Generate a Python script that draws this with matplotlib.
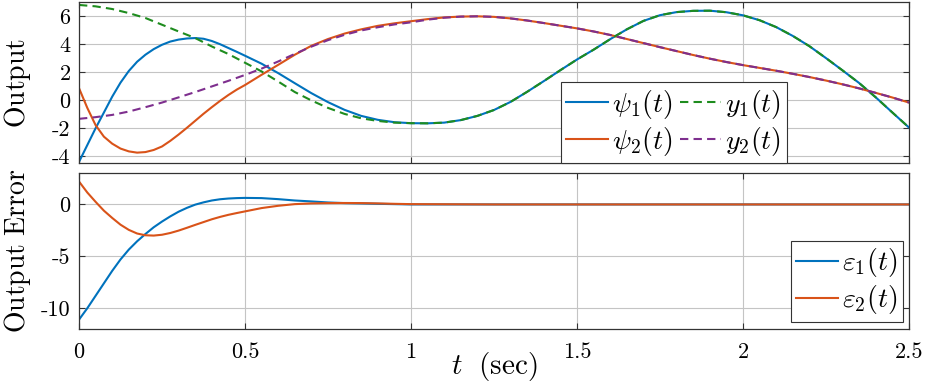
import numpy as np
import matplotlib
matplotlib.use("Agg")
import matplotlib.pyplot as plt

plt.rcParams['mathtext.fontset'] = 'cm'
plt.rcParams['axes.unicode_minus'] = False

# ---------------- data ----------------
# reference outputs (sampled every 0.05 s)
t_ref = [0.00, 0.05, 0.10, 0.15, 0.20, 0.25, 0.30, 0.35, 0.40, 0.45,
         0.50, 0.55, 0.60, 0.65, 0.70, 0.75, 0.80, 0.85, 0.90, 0.95,
         1.00, 1.05, 1.10, 1.15, 1.20, 1.25, 1.30, 1.35, 1.40, 1.45,
         1.50, 1.55, 1.60, 1.65, 1.70, 1.75, 1.80, 1.85, 1.90, 1.95,
         2.00, 2.05, 2.10, 2.15, 2.20, 2.25, 2.30, 2.35, 2.40, 2.45, 2.50]

y1 = [6.79, 6.69, 6.50, 6.21, 5.86, 5.38, 4.90, 4.43, 3.83, 3.29,
      2.67, 2.05, 1.33, 0.58, -0.02, -0.55, -0.98, -1.29, -1.48, -1.60,
      -1.64, -1.65, -1.60, -1.42, -1.12, -0.70, -0.12, 0.60, 1.36, 2.14,
      2.90, 3.60, 4.35, 5.05, 5.65, 6.06, 6.28, 6.37, 6.38, 6.27,
      6.05, 5.70, 5.21, 4.58, 3.85, 3.00, 2.12, 1.22, 0.20, -0.88, -1.95]

y2 = [-1.33, -1.21, -1.05, -0.81, -0.50, -0.17, 0.20, 0.58, 0.98, 1.38,
      1.80, 2.25, 2.76, 3.30, 3.82, 4.28, 4.66, 4.97, 5.20, 5.40,
      5.55, 5.74, 5.88, 5.96, 5.98, 5.94, 5.83, 5.68, 5.50, 5.31,
      5.12, 4.90, 4.65, 4.36, 4.07, 3.78, 3.50, 3.22, 2.96, 2.72,
      2.50, 2.30, 2.10, 1.88, 1.65, 1.40, 1.13, 0.84, 0.52, 0.19, -0.17]

# system outputs (finer sampling during the transient)
t_sys = [0.000, 0.025, 0.050, 0.075, 0.100, 0.125, 0.150, 0.175, 0.200, 0.225,
         0.250, 0.275, 0.300, 0.325, 0.350, 0.375, 0.400, 0.425, 0.450, 0.475,
         0.50, 0.55, 0.60, 0.65, 0.70, 0.75, 0.80, 0.85, 0.90, 0.95,
         1.00, 1.05, 1.10, 1.15, 1.20, 1.25, 1.30, 1.35, 1.40, 1.45,
         1.50, 1.55, 1.60, 1.65, 1.70, 1.75, 1.80, 1.85, 1.90, 1.95,
         2.00, 2.05, 2.10, 2.15, 2.20, 2.25, 2.30, 2.35, 2.40, 2.45, 2.50]

psi1 = [-4.40, -3.20, -2.00, -0.88, 0.25, 1.25, 2.08, 2.74, 3.24, 3.64,
        3.95, 4.18, 4.32, 4.40, 4.43, 4.38, 4.22, 3.99, 3.72, 3.45,
        3.17, 2.60, 1.93, 1.21, 0.50, -0.14, -0.69, -1.12, -1.40, -1.57,
        -1.64, -1.65, -1.60, -1.42, -1.12, -0.70, -0.12, 0.60, 1.36, 2.14,
        2.90, 3.60, 4.35, 5.05, 5.65, 6.06, 6.28, 6.37, 6.38, 6.27,
        6.05, 5.70, 5.21, 4.58, 3.85, 3.00, 2.12, 1.22, 0.20, -0.88, -1.95]

psi2 = [0.86, -0.55, -1.78, -2.60, -3.10, -3.45, -3.65, -3.74, -3.70, -3.55,
        -3.30, -2.90, -2.45, -1.97, -1.47, -0.97, -0.50, -0.05, 0.37, 0.75,
        1.08, 1.81, 2.52, 3.24, 3.88, 4.36, 4.75, 5.05, 5.30, 5.48,
        5.63, 5.78, 5.90, 5.96, 5.98, 5.94, 5.83, 5.68, 5.50, 5.31,
        5.12, 4.90, 4.65, 4.36, 4.07, 3.78, 3.50, 3.22, 2.96, 2.72,
        2.50, 2.30, 2.10, 1.88, 1.65, 1.40, 1.13, 0.84, 0.52, 0.19, -0.17]

# output errors
t_err = [0.000, 0.025, 0.050, 0.075, 0.100, 0.125, 0.150, 0.175, 0.200, 0.225,
         0.250, 0.275, 0.300, 0.325, 0.350, 0.375, 0.400, 0.425, 0.450, 0.475,
         0.50, 0.55, 0.60, 0.65, 0.70, 0.75, 0.80, 0.85, 0.90, 0.95,
         1.00, 1.25, 1.50, 1.75, 2.00, 2.25, 2.50]

eps1 = [-11.1, -10.0, -8.8, -7.6, -6.4, -5.3, -4.35, -3.55, -2.85, -2.2,
        -1.65, -1.15, -0.70, -0.33, -0.02, 0.20, 0.38, 0.50, 0.57, 0.61,
        0.63, 0.61, 0.51, 0.38, 0.29, 0.19, 0.13, 0.10, 0.06, 0.03,
        0.0, 0.0, 0.0, 0.0, 0.0, 0.0, 0.0]

eps2 = [2.21, 1.15, 0.25, -0.60, -1.30, -1.95, -2.45, -2.80, -2.97, -3.00,
        -2.92, -2.75, -2.52, -2.25, -1.97, -1.70, -1.43, -1.20, -1.00, -0.83,
        -0.67, -0.35, -0.13, 0.03, 0.10, 0.13, 0.14, 0.13, 0.10, 0.06,
        0.03, 0.0, 0.0, 0.0, 0.0, 0.0, 0.0]

x_ticks = [0, 0.5, 1, 1.5, 2, 2.5]
x_ticklabels = ['0', '0.5', '1', '1.5', '2', '2.5']
top_yticks = [-4, -2, 0, 2, 4, 6]
top_yticklabels = ['-4', '-2', '0', '2', '4', '6']
bot_yticks = [-10, -5, 0]
bot_yticklabels = ['-10', '-5', '0']

# ---------------- style ----------------
C_BLUE = '#0072BD'
C_ORANGE = '#D95319'
C_GREEN = '#1E8C1E'
C_PURPLE = '#7E2F8E'
LW = 1.5
TICK_FONT = 'cmr10'
TICK_SIZE = 16

W, H = 927, 388
fig = plt.figure(figsize=(W / 100, H / 100), dpi=100)
left = 79 / W
width = (909 - 79) / W
ax1 = fig.add_axes([left, 1 - 163.3 / H, width, (163.3 - 2) / H])
ax2 = fig.add_axes([left, 1 - 329 / H, width, (329 - 173.3) / H])

h1, = ax1.plot(t_sys, psi1, color=C_BLUE, lw=LW)
h2, = ax1.plot(t_sys, psi2, color=C_ORANGE, lw=LW)
h3, = ax1.plot(t_ref, y1, color=C_GREEN, lw=LW, ls=(0, (4, 2.5)))
h4, = ax1.plot(t_ref, y2, color=C_PURPLE, lw=LW, ls=(0, (4, 2.5)))

g1, = ax2.plot(t_err, eps1, color=C_BLUE, lw=LW)
g2, = ax2.plot(t_err, eps2, color=C_ORANGE, lw=LW)

for ax in (ax1, ax2):
    ax.set_xlim(0, 2.5)
    ax.set_xticks(x_ticks)
    ax.grid(True, color='#c4c4c4', lw=0.8)
    ax.set_axisbelow(True)
    ax.tick_params(direction='in', length=4, width=0.8, color='#333333',
                   top=True, right=True, labelsize=TICK_SIZE)
    for s in ax.spines.values():
        s.set_color('#333333')
        s.set_linewidth(0.9)

ax1.set_ylim(-4.5, 7)
ax1.set_yticks(top_yticks)
ax1.set_yticklabels(top_yticklabels, fontfamily=TICK_FONT, fontsize=TICK_SIZE)
ax1.set_xticklabels([])

ax2.set_ylim(-12, 3)
ax2.set_yticks(bot_yticks)
ax2.set_yticklabels(bot_yticklabels, fontfamily=TICK_FONT, fontsize=TICK_SIZE)
ax2.set_xticklabels(x_ticklabels, fontfamily=TICK_FONT, fontsize=TICK_SIZE)
ax2.tick_params(axis='x', pad=10)
ax1.tick_params(axis='y', pad=6)
ax2.tick_params(axis='y', pad=6)

ax1.set_ylabel(r'$\mathrm{Output}$', fontsize=20)
ax2.set_ylabel(r'$\mathrm{Output\ Error}$', fontsize=20)
ax1.yaxis.set_label_coords(-0.055, 0.5)
ax2.yaxis.set_label_coords(-0.055, 0.5)
ax2.set_xlabel(r'$t\ \ \mathrm{(sec)}$', fontsize=21, labelpad=-9)

leg1 = ax1.legend([h1, h2, h3, h4],
                  [r'$\psi_1(t)$', r'$\psi_2(t)$', r'$y_1(t)$', r'$y_2(t)$'],
                  ncol=2, loc='lower right', bbox_to_anchor=(0.853, 0.0),
                  borderaxespad=0, fontsize=20, handlelength=1.5,
                  handletextpad=0.15, columnspacing=0.25, labelspacing=0.15,
                  borderpad=0.2, fancybox=False, framealpha=1,
                  edgecolor='#333333')
leg1.get_frame().set_linewidth(0.8)

leg2 = ax2.legend([g1, g2], [r'$\varepsilon_1(t)$', r'$\varepsilon_2(t)$'],
                  loc='lower right', bbox_to_anchor=(0.993, 0.045),
                  borderaxespad=0, fontsize=20, handlelength=1.5,
                  handletextpad=0.15, labelspacing=0.15, borderpad=0.2,
                  fancybox=False, framealpha=1, edgecolor='#333333')
leg2.get_frame().set_linewidth(0.8)

fig.savefig('out.png', dpi=100)
